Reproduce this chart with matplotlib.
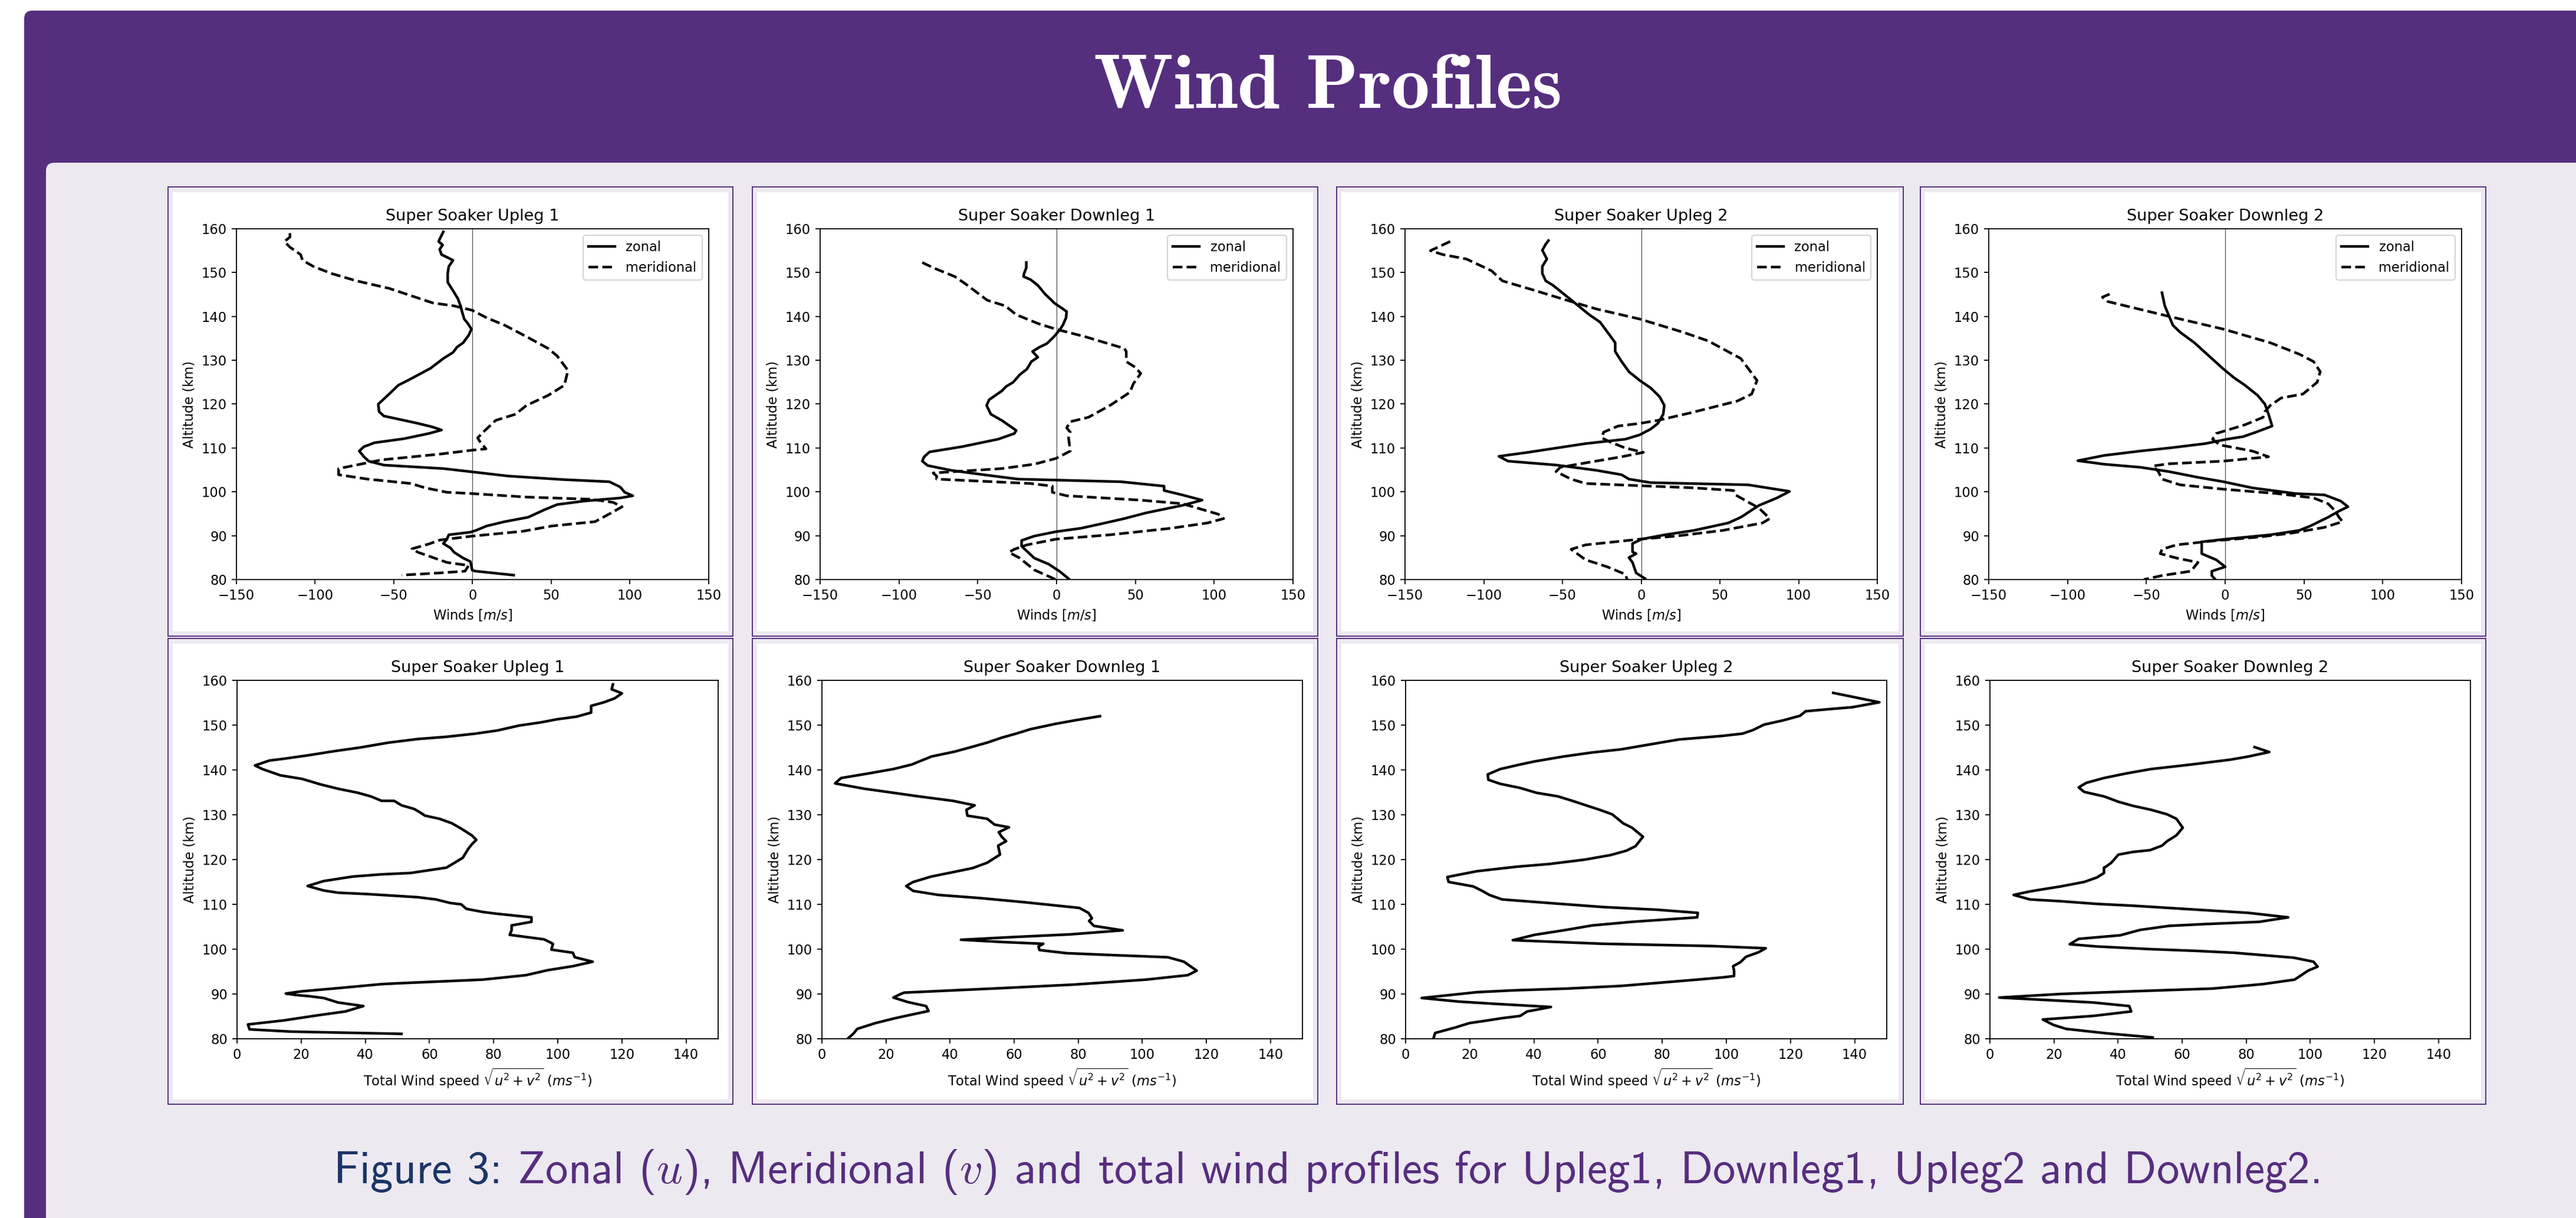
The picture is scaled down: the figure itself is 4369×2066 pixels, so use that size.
import matplotlib
matplotlib.use("Agg")
import matplotlib.pyplot as plt
from matplotlib.patches import Rectangle, FancyBboxPatch

# ---------------------------------------------------------------- data
# Each profile: altitude (km) and the wind component (m/s)
upleg1_zonal_alt = [159.3, 157.1, 156.3, 155.3, 154.1, 153.3, 152.8, 151.4, 149.8, 147.8, 146.1, 144.1, 142.4, 141.1,
                    139.4, 138.4, 137.1, 135.7, 134.0, 133.0, 131.8, 130.4, 128.2, 126.0, 124.3, 122.3, 120.0, 118.3,
                    117.3, 116.5, 115.6, 114.8, 114.1, 113.3, 112.1, 111.2, 110.3, 109.3, 108.0, 107.0, 106.1, 105.3,
                    104.6, 103.6, 102.8, 102.3, 101.1, 99.9, 99.1, 98.6, 97.9, 97.1, 95.9, 94.2, 93.2, 92.2, 91.2,
                    90.8, 90.2, 89.2, 88.2, 87.2, 86.2, 84.9, 84.1, 82.1, 81.9, 81.0]
upleg1_zonal = [-18.6, -21.6, -19.0, -20.9, -19.7, -15.1, -12.4, -15.1, -15.8, -15.8, -12.8, -9.4, -7.6, -6.7,
                -5.3, -3.0, -0.7, -2.5, -6.0, -9.9, -12.4, -18.6, -26.6, -38.0, -47.2, -53.0, -59.9, -59.4,
                -56.4, -46.1, -34.6, -25.5, -19.7, -27.8, -43.8, -62.2, -69.0, -72.0, -69.0, -66.0, -56.4, -18.6,
                -1.4, 22.7, 57.1, 86.9, 93.8, 96.6, 101.8, 93.8, 70.9, 53.7, 45.6, 35.3, 20.4, 8.9, 2.1,
                -1.4, -15.1, -16.3, -18.6, -14.0, -11.7, -6.0, -1.4, -0.2, 2.1, 26.1]
upleg1_merid_alt = [159.0, 158.1, 157.1, 155.8, 154.1, 152.8, 151.4, 149.8, 148.1, 146.4, 143.1, 142.4, 141.4, 139.7,
                    138.0, 135.4, 132.7, 131.0, 127.7, 124.3, 122.0, 119.7, 117.7, 116.3, 113.6, 112.3, 111.6, 109.8,
                    109.5, 108.6, 107.3, 105.3, 103.9, 102.9, 101.9, 100.9, 99.9, 99.6, 98.8, 98.3, 97.6, 96.6, 95.2,
                    93.2, 92.2, 91.0, 89.9, 89.0, 88.1, 87.0, 86.2, 83.9, 83.2, 81.9, 81.5, 81.0]
upleg1_merid = [-116.0, -116.0, -119.5, -116.0, -109.2, -108.0, -101.1, -89.7, -73.6, -53.0, -25.5, -11.7, -0.2, 8.9,
                20.4, 34.2, 48.0, 53.7, 60.6, 58.3, 48.0, 34.2, 27.3, 14.7, 6.7, 3.2, 4.4, 8.5,
                -0.2, -20.9, -57.6, -85.1, -85.1, -66.7, -39.2, -30.0, -16.3, -0.2, 34.2, 75.5, 89.2, 95.0, 88.1,
                77.8, 50.2, 31.9, -0.2, -20.9, -27.8, -38.5, -34.6, -16.3, -2.5, -4.8, -20.9, -45.0]

downleg1_zonal_alt = [152.3, 151.1, 149.8, 149.1, 148.4, 147.1, 145.1, 143.7, 143.1, 141.7, 141.1, 139.7, 138.1, 137.1,
                      135.4, 133.8, 133.0, 132.0, 130.7, 129.7, 128.0, 126.7, 125.0, 124.0, 123.0, 121.0, 119.7, 117.7,
                      116.3, 114.0, 113.3, 112.0, 110.3, 109.1, 108.0, 107.0, 106.0, 104.9, 103.9, 102.9, 102.3, 101.3,
                      100.3, 99.3, 98.1, 96.9, 95.2, 93.9, 92.6, 91.7, 90.9, 89.9, 88.9, 87.6, 84.9, 83.5, 81.9, 80.2]
downleg1_zonal = [-19.2, -19.2, -20.6, -21.0, -16.5, -11.9, -7.3, -3.2, -1.6, 4.1, 6.4, 6.0, 4.1, 2.3,
                  -1.6, -6.2, -10.8, -15.3, -11.9, -16.0, -18.8, -23.4, -27.5, -32.1, -34.8, -42.8, -44.4, -41.7,
                  -34.8, -25.6, -26.8, -37.1, -60.0, -80.6, -84.0, -85.2, -81.8, -66.9, -46.3, -24.5, 40.8, 68.2,
                  68.2, 79.7, 92.3, 79.7, 56.8, 43.0, 27.0, 15.6, -0.5, -14.2, -22.2, -22.2, -14.2, -5.0, 1.8, 7.6]
downleg1_merid_alt = [152.3, 151.1, 149.1, 147.4, 143.7, 142.4, 140.4, 138.4, 137.1, 135.4, 132.7, 132.0, 129.7, 128.4,
                      127.0, 124.7, 122.7, 119.7, 117.0, 116.0, 114.6, 113.6, 112.3, 109.3, 107.6, 106.3, 105.3, 104.3,
                      103.6, 102.9, 101.9, 101.3, 99.9, 99.1, 98.1, 97.3, 94.9, 93.9, 92.9, 91.7, 90.2, 89.2, 87.9,
                      86.9, 86.2, 84.9, 82.2, 80.0]
downleg1_merid = [-85.2, -78.3, -64.6, -57.7, -44.0, -32.5, -25.6, -11.9, -0.5, 17.9, 43.0, 44.2, 44.2, 49.9,
                  53.4, 48.8, 46.5, 33.9, 20.2, 8.7, 6.4, 8.7, 7.6, 8.7, -0.5, -14.2, -34.8, -78.3,
                  -76.1, -76.1, -16.5, -2.7, -2.7, 6.4, 53.4, 79.7, 102.6, 106.0, 95.7, 72.8, 33.9, -0.5, -18.8,
                  -26.8, -30.2, -23.4, -14.2, -0.5]

upleg2_zonal_alt = [157.3, 156.5, 155.1, 153.1, 151.4, 149.8, 148.1, 147.1, 145.1, 143.1, 140.4, 138.7, 135.4, 134.0,
                    132.0, 129.7, 127.4, 125.4, 123.7, 121.7, 119.7, 117.7, 115.6, 114.3, 113.0, 112.0, 111.0, 110.0,
                    109.0, 108.1, 107.0, 106.1, 104.9, 103.9, 102.9, 102.1, 101.6, 100.1, 98.6, 96.9, 94.2, 92.9,
                    91.2, 90.2, 89.2, 88.2, 86.3, 85.9, 85.0, 83.9, 81.5, 80.2]
upleg2_zonal = [-58.9, -60.6, -62.8, -59.9, -62.8, -62.8, -60.6, -56.0, -49.1, -42.2, -33.0, -26.1, -19.3, -16.5,
                -16.5, -12.4, -7.8, -0.9, 6.0, 11.7, 14.7, 14.0, 10.6, 6.0, -0.9, -10.1, -35.3, -53.7,
                -72.0, -90.4, -84.6, -53.7, -28.4, -12.4, -7.8, 6.0, 67.9, 94.3, 86.2, 74.8, 63.3, 55.3,
                33.5, 15.1, 0.2, -5.5, -5.5, -3.2, -7.8, -5.5, -3.2, 2.5]
upleg2_merid_alt = [157.1, 155.0, 154.1, 153.1, 150.4, 148.1, 146.4, 143.4, 141.7, 139.4, 136.4, 134.4, 130.4, 125.4,
                    122.3, 120.7, 118.0, 116.3, 115.6, 115.0, 113.6, 112.3, 111.3, 110.0, 109.0, 108.0, 106.6, 105.6,
                    104.6, 102.9, 101.9, 101.4, 100.9, 100.3, 99.3, 96.3, 93.9, 92.9, 91.2, 89.9, 89.2, 87.9, 86.9,
                    84.5, 82.9, 81.2, 80.0]
upleg2_merid = [-121.3, -133.9, -125.9, -111.0, -95.0, -88.1, -72.0, -44.5, -28.4, -0.9, 26.6, 42.7, 63.3, 73.6,
                70.2, 61.0, 31.2, 10.6, -0.9, -14.7, -23.9, -25.0, -19.3, -10.1, 1.4, -12.4, -35.3, -51.4,
                -54.1, -44.5, -35.3, -0.9, 33.5, 58.7, 59.9, 74.8, 81.7, 77.1, 51.8, 22.0, -0.9, -35.3, -44.5,
                -35.3, -21.6, -10.1, -8.9]

downleg2_zonal_alt = [145.4, 142.4, 140.0, 138.0, 136.4, 134.0, 131.0, 128.0, 126.0, 124.3, 122.0, 120.0, 117.7, 115.0,
                      113.6, 112.6, 112.0, 111.0, 110.0, 109.3, 108.3, 107.1, 106.3, 105.6, 104.6, 103.3, 102.3, 100.9,
                      99.6, 99.3, 97.9, 96.6, 95.6, 94.2, 92.2, 91.2, 90.2, 89.2, 88.6, 86.6, 85.9, 84.5, 82.9, 81.9,
                      80.9, 80.0]
downleg2_zonal = [-40.1, -38.3, -35.5, -33.2, -28.6, -19.5, -10.3, -1.1, 5.7, 12.6, 20.6, 25.2, 27.5, 29.8,
                  19.5, 11.5, 1.1, -12.6, -35.5, -53.9, -76.8, -93.5, -76.8, -53.9, -35.5, -17.2, -1.1, 17.2,
                  44.7, 63.0, 73.3, 77.9, 72.2, 65.3, 53.9, 47.0, 28.6, 0.0, -14.9, -14.9, -14.9, -5.7, 0.0, -8.5,
                  -8.5, -6.2]
downleg2_merid_alt = [145.1, 144.4, 143.4, 140.0, 137.1, 134.0, 131.4, 129.7, 127.4, 125.0, 122.3, 121.4, 119.7, 118.3,
                      117.0, 115.3, 113.3, 112.0, 110.7, 109.3, 108.0, 107.0, 106.4, 105.9, 104.6, 102.9, 101.6, 100.6,
                      99.6, 98.6, 97.3, 95.6, 94.2, 93.2, 91.9, 90.6, 89.7, 88.8, 87.9, 86.9, 85.9, 84.9, 83.9, 81.9,
                      80.9, 80.0]
downleg2_merid = [-73.3, -77.9, -74.5, -35.5, -1.1, 28.6, 47.0, 56.1, 60.3, 58.4, 49.3, 35.5, 28.6, 25.2,
                  24.1, 12.6, -5.7, -8.0, -3.4, 17.2, 27.5, -1.1, -35.5, -45.8, -42.4, -40.1, -28.6, -1.1,
                  33.2, 56.1, 65.3, 69.9, 72.2, 74.5, 63.0, 42.4, 21.8, -8.0, -30.9, -40.1, -41.2, -30.9, -17.2, -21.8,
                  -40.1, -51.6]

# Total horizontal wind speed sqrt(u^2 + v^2)
upleg1_total_alt = [159.1, 158.0, 157.1, 156.0, 155.1, 154.3, 153.6, 152.8, 151.9, 151.3, 150.6, 149.9, 148.8, 148.1,
                    147.4, 146.9, 146.1, 145.0, 144.2, 143.3, 142.5, 142.1, 141.0, 140.2, 138.8, 138.0, 136.8, 135.8,
                    134.9, 134.1, 133.1, 133.1, 132.1, 131.3, 130.6, 129.8, 129.1, 128.1, 126.9, 125.4, 124.4, 123.4,
                    122.4, 120.4, 118.2, 117.0, 116.7, 116.2, 115.2, 114.1, 113.1, 112.6, 112.3, 112.0, 111.6, 111.1,
                    110.3, 110.0, 109.0, 108.3, 107.9, 107.1, 106.1, 105.3, 104.2, 103.2, 102.2, 101.6, 101.2, 99.9,
                    99.2, 98.2, 97.2, 96.2, 95.3, 94.2, 93.2, 92.4, 92.2, 91.3, 90.6, 90.1, 89.8, 89.5, 89.1, 88.1,
                    87.3, 86.1, 85.2, 84.1, 83.2, 82.1, 81.6, 81.1]
upleg1_total = [117.2, 116.8, 120.0, 117.8, 114.4, 110.4, 110.4, 110.4, 105.9, 99.7, 94.6, 87.9, 81.1, 74.3,
                65.3, 56.3, 47.3, 38.3, 30.4, 22.5, 14.6, 10.1, 5.6, 7.9, 13.5, 20.3, 25.9, 31.5,
                37.7, 41.7, 45.1, 49.0, 51.3, 55.2, 56.9, 58.6, 63.1, 67.0, 69.9, 73.2, 74.6, 73.2,
                72.1, 70.4, 65.3, 54.1, 45.1, 36.0, 27.0, 22.0, 27.0, 31.5, 40.5, 47.3, 56.3, 62.0,
                66.5, 69.9, 71.5, 76.6, 81.1, 91.8, 91.8, 85.6, 85.6, 85.0, 95.7, 97.4, 98.5, 98.0,
                104.7, 105.3, 110.9, 104.7, 96.8, 90.1, 76.6, 50.7, 45.1, 31.5, 20.3, 15.2, 18.0, 22.5, 27.0, 31.5,
                39.4, 33.8, 24.8, 14.6, 3.4, 3.9, 16.9, 51.3]

downleg1_total_alt = [152.0, 151.1, 150.3, 149.1, 148.1, 147.2, 146.1, 145.2, 144.1, 143.0, 141.2, 140.2, 139.2, 138.2,
                      137.0, 135.8, 134.9, 134.1, 133.1, 132.1, 131.1, 129.8, 129.1, 127.8, 127.2, 126.1, 125.1, 124.1,
                      123.1, 121.1, 119.3, 118.1, 117.1, 116.2, 115.0, 114.1, 113.0, 112.1, 111.4, 110.5, 109.2, 108.1,
                      106.9, 106.3, 105.2, 104.2, 103.3, 102.7, 102.1, 101.6, 101.2, 100.6, 99.8, 99.1, 98.7, 98.2,
                      97.2, 95.2, 94.2, 93.2, 92.1, 91.3, 90.3, 90.0, 89.2, 88.2, 87.3, 86.2, 85.3, 84.5, 83.5, 82.2,
                      81.2, 80.1]
downleg1_total = [86.8, 79.2, 73.0, 65.1, 60.6, 56.1, 51.6, 47.1, 41.5, 34.2, 28.0, 22.3, 14.4, 6.0,
                  4.1, 13.3, 22.3, 30.2, 40.9, 47.7, 45.1, 45.4, 51.6, 53.9, 58.4, 55.2, 56.1, 57.5,
                  55.0, 55.6, 51.6, 47.1, 40.3, 34.1, 28.5, 26.3, 28.5, 36.4, 49.4, 62.9, 80.4, 83.2,
                  84.3, 83.4, 84.9, 93.9, 77.5, 59.5, 43.4, 56.1, 69.1, 67.6, 67.9, 76.4, 89.9, 108.0,
                  113.0, 117.0, 114.2, 101.2, 78.7, 56.1, 25.7, 24.6, 22.3, 26.8, 32.5, 33.3, 27.4, 22.3, 16.7, 11.0,
                  9.9, 8.2]

upleg2_total_alt = [157.2, 155.1, 154.0, 153.6, 153.1, 152.1, 151.1, 150.1, 148.9, 148.1, 147.6, 146.8, 145.7, 144.6,
                    143.9, 143.0, 141.9, 141.2, 140.2, 139.0, 137.8, 136.9, 136.0, 134.9, 134.1, 133.1, 131.9, 131.1,
                    130.1, 128.1, 127.1, 125.1, 123.0, 122.0, 121.0, 120.0, 119.0, 118.4, 117.4, 116.1, 115.0, 114.0,
                    113.0, 112.1, 111.1, 110.3, 109.4, 108.8, 108.1, 107.1, 106.1, 105.3, 104.2, 103.2, 102.0, 101.2,
                    100.7, 100.2, 99.3, 98.3, 97.1, 96.2, 95.2, 94.0, 93.7, 93.2, 91.8, 91.2, 90.8, 90.4, 89.1, 88.3,
                    87.8, 87.1, 86.4, 86.1, 85.1, 84.6, 84.1, 83.5, 82.5, 81.3, 80.1]
upleg2_total = [133.3, 147.7, 139.3, 132.5, 124.7, 123.0, 117.9, 111.7, 108.3, 105.0, 98.8, 85.2, 76.2, 67.2,
                58.2, 49.2, 40.2, 35.6, 29.5, 25.6, 25.8, 29.5, 35.6, 40.8, 47.5, 52.0, 57.1, 60.5,
                64.4, 67.8, 70.6, 74.0, 71.7, 68.9, 63.9, 56.0, 44.7, 34.6, 22.2, 13.0, 13.4, 21.1,
                23.9, 26.1, 30.1, 44.7, 61.6, 78.5, 91.1, 90.9, 70.6, 58.2, 49.2, 40.2, 33.4, 61.6,
                95.4, 112.3, 110.0, 106.1, 104.4, 102.1, 102.4, 102.4, 98.8, 90.9, 67.2, 50.3, 33.4, 22.2, 5.0, 16.6,
                27.8, 45.3, 40.2, 37.9, 35.7, 30.1, 25.6, 19.9, 15.4, 9.2, 8.7]

downleg2_total_alt = [145.1, 144.0, 143.0, 142.3, 141.2, 140.2, 139.2, 138.2, 137.1, 136.1, 135.1, 134.1, 132.9, 132.0,
                      131.1, 130.1, 129.1, 127.1, 125.4, 124.1, 123.1, 122.1, 121.7, 121.1, 119.3, 118.4, 118.2, 117.0,
                      116.0, 115.0, 114.0, 113.1, 112.8, 112.1, 111.1, 110.7, 110.1, 109.7, 109.2, 108.1, 107.1, 106.1,
                      105.6, 105.2, 104.3, 103.1, 102.3, 101.1, 100.6, 100.0, 99.6, 99.2, 98.1, 97.2, 96.1, 95.2, 93.2,
                      92.2, 91.2, 90.6, 90.0, 89.2, 88.1, 87.3, 86.1, 85.1, 84.3, 83.1, 82.2, 81.2, 80.3]
downleg2_total = [82.6, 87.2, 80.7, 75.1, 62.7, 50.3, 42.4, 35.6, 30.0, 27.7, 29.4, 35.6, 40.1, 44.6,
                  50.3, 55.3, 58.2, 60.2, 58.2, 55.3, 53.7, 50.0, 44.6, 40.1, 37.9, 36.2, 35.6, 35.6,
                  33.4, 29.4, 22.1, 14.2, 11.9, 7.4, 12.5, 22.1, 33.4, 44.6, 55.9, 80.7, 93.1, 84.1,
                  67.2, 55.9, 46.9, 40.7, 27.7, 24.9, 33.4, 50.3, 64.9, 76.2, 94.8, 101.0, 102.3, 99.3, 95.1,
                  85.2, 69.4, 44.6, 22.1, 2.9, 32.2, 43.5, 44.1, 32.2, 16.5, 19.8, 23.8, 36.7, 50.8]

flight_titles = ["Super Soaker Upleg 1", "Super Soaker Downleg 1", "Super Soaker Upleg 2", "Super Soaker Downleg 2"]
component_profiles = [
    (upleg1_zonal_alt, upleg1_zonal, upleg1_merid_alt, upleg1_merid),
    (downleg1_zonal_alt, downleg1_zonal, downleg1_merid_alt, downleg1_merid),
    (upleg2_zonal_alt, upleg2_zonal, upleg2_merid_alt, upleg2_merid),
    (downleg2_zonal_alt, downleg2_zonal, downleg2_merid_alt, downleg2_merid),
]
total_profiles = [
    (upleg1_total_alt, upleg1_total),
    (downleg1_total_alt, downleg1_total),
    (upleg2_total_alt, upleg2_total),
    (downleg2_total_alt, downleg2_total),
]
wind_ticks = [-150, -100, -50, 0, 50, 100, 150]
speed_ticks = [0, 20, 40, 60, 80, 100, 120, 140]
alt_ticks = [80, 90, 100, 110, 120, 130, 140, 150, 160]

# ---------------------------------------------------------------- style
W, H = 4369, 2066
S = 1.63  # enlargement of the embedded plot images
PURPLE = "#562E7E"
LAVENDER = "#ECE9F1"
NAVY = "#1B3566"

plt.rcParams.update({
    "font.family": "DejaVu Sans",
    "font.size": 10 * S,
    "axes.titlesize": 12 * S,
    "axes.labelsize": 10 * S,
    "xtick.labelsize": 10 * S,
    "ytick.labelsize": 10 * S,
    "legend.fontsize": 10 * S,
    "axes.linewidth": 0.8 * S,
    "xtick.major.size": 3.5 * S,
    "ytick.major.size": 3.5 * S,
    "xtick.major.width": 0.8 * S,
    "ytick.major.width": 0.8 * S,
    "xtick.major.pad": 3.5 * S,
    "ytick.major.pad": 3.5 * S,
    "axes.titlepad": 6 * S,
    "axes.labelpad": 4 * S,
    "legend.framealpha": 0.8,
    "patch.linewidth": 1.0 * S,
})

fig = plt.figure(figsize=(W / 100, H / 100), dpi=100)
fig.patch.set_facecolor("white")

# Poster background drawn in pixel coordinates
bg = fig.add_axes([0, 0, 1, 1], zorder=-10)
bg.set_xlim(0, W)
bg.set_ylim(H, 0)
bg.axis("off")

bg.add_patch(FancyBboxPatch((41, 18), W + 40 - 41, H + 40 - 18,
                            boxstyle="round,pad=0,rounding_size=14",
                            facecolor=PURPLE, edgecolor="none"))
bg.add_patch(FancyBboxPatch((78, 276), W + 40 - 78, H + 40 - 276,
                            boxstyle="round,pad=0,rounding_size=14",
                            facecolor=LAVENDER, edgecolor="none"))

frame_cols = [(285, 1243), (1276, 2235), (2267, 3228), (3257, 4216)]
frame_rows = [(317, 1079), (1083, 1873)]
for (y0, y1) in frame_rows:
    for (x0, x1) in frame_cols:
        bg.add_patch(Rectangle((x0, y0), x1 - x0, y1 - y0, facecolor=LAVENDER,
                               edgecolor=PURPLE, linewidth=1.4))
        bg.add_patch(Rectangle((x0 + 8, y0 + 9), x1 - x0 - 16, y1 - y0 - 17,
                               facecolor="white", edgecolor="none"))


def fit_text(x, y, s, target_width, **kw):
    """Place text and rescale its size so that it spans target_width pixels."""
    size = kw.pop("fontsize", 40)
    t = bg.text(x, y, s, fontsize=size, **kw)
    r = fig.canvas.get_renderer()
    w = t.get_window_extent(r).width
    t.set_fontsize(size * target_width / w)
    return t


# Header title
fit_text(2252, 183, "Wind Profiles", 795, family="cmb10", color="white",
         ha="center", va="baseline", fontsize=90)

# Caption in two colours
cap_label = "Figure 3:"
cap_text = " Zonal ($u$), Meridional ($v$) and total wind profiles for Upleg1, Downleg1, Upleg2 and Downleg2."
cap_size = 48
renderer = fig.canvas.get_renderer()
t1 = bg.text(566, 2007, cap_label, family="cmss10", color=NAVY, fontsize=cap_size,
             va="baseline", math_fontfamily="cm")
t2 = bg.text(0, 2007, cap_text, family="cmss10", color=PURPLE, fontsize=cap_size,
             va="baseline", math_fontfamily="cm")
w_total = t1.get_window_extent(renderer).width + t2.get_window_extent(renderer).width
cap_size *= 3368 / w_total
t1.set_fontsize(cap_size)
t2.set_fontsize(cap_size)
t2.set_x(566 + t1.get_window_extent(renderer).width)


def axes_rect(x0, x1, y0, y1):
    return [x0 / W, 1 - y1 / H, (x1 - x0) / W, (y1 - y0) / H]


top_cols = [(401, 1202), (1391, 2193), (2383, 3184), (3373, 4175)]
bot_cols = [(402, 1218), (1394, 2209), (2384, 3200), (3375, 4190)]
LW = 3.2

for i, (x0, x1) in enumerate(top_cols):
    ax = fig.add_axes(axes_rect(x0, x1, 388, 983))
    za, zu, ma, mv = component_profiles[i]
    ax.axvline(0, color="k", linewidth=0.9, alpha=0.7)
    ax.plot(zu, za, color="k", linewidth=LW, label="zonal")
    ax.plot(mv, ma, color="k", linewidth=LW, linestyle="--", dashes=(3.7, 1.6), label="meridional")
    ax.set_xlim(-150, 150)
    ax.set_ylim(80, 160)
    ax.set_xticks(wind_ticks)
    ax.set_yticks(alt_ticks)
    ax.set_title(flight_titles[i])
    ax.set_xlabel("Winds [$m/s$]")
    ax.set_ylabel("Altitude (km)")
    ax.legend(loc="upper right")

for i, (x0, x1) in enumerate(bot_cols):
    ax = fig.add_axes(axes_rect(x0, x1, 1154, 1762))
    ta, ts = total_profiles[i]
    ax.plot(ts, ta, color="k", linewidth=LW)
    ax.set_xlim(0, 150)
    ax.set_ylim(80, 160)
    ax.set_xticks(speed_ticks)
    ax.set_yticks(alt_ticks)
    ax.set_title(flight_titles[i])
    ax.set_xlabel(r"Total Wind speed $\sqrt{u^2+v^2}$ $(ms^{-1})$")
    ax.set_ylabel("Altitude (km)")

fig.savefig("out.png", dpi=100)
